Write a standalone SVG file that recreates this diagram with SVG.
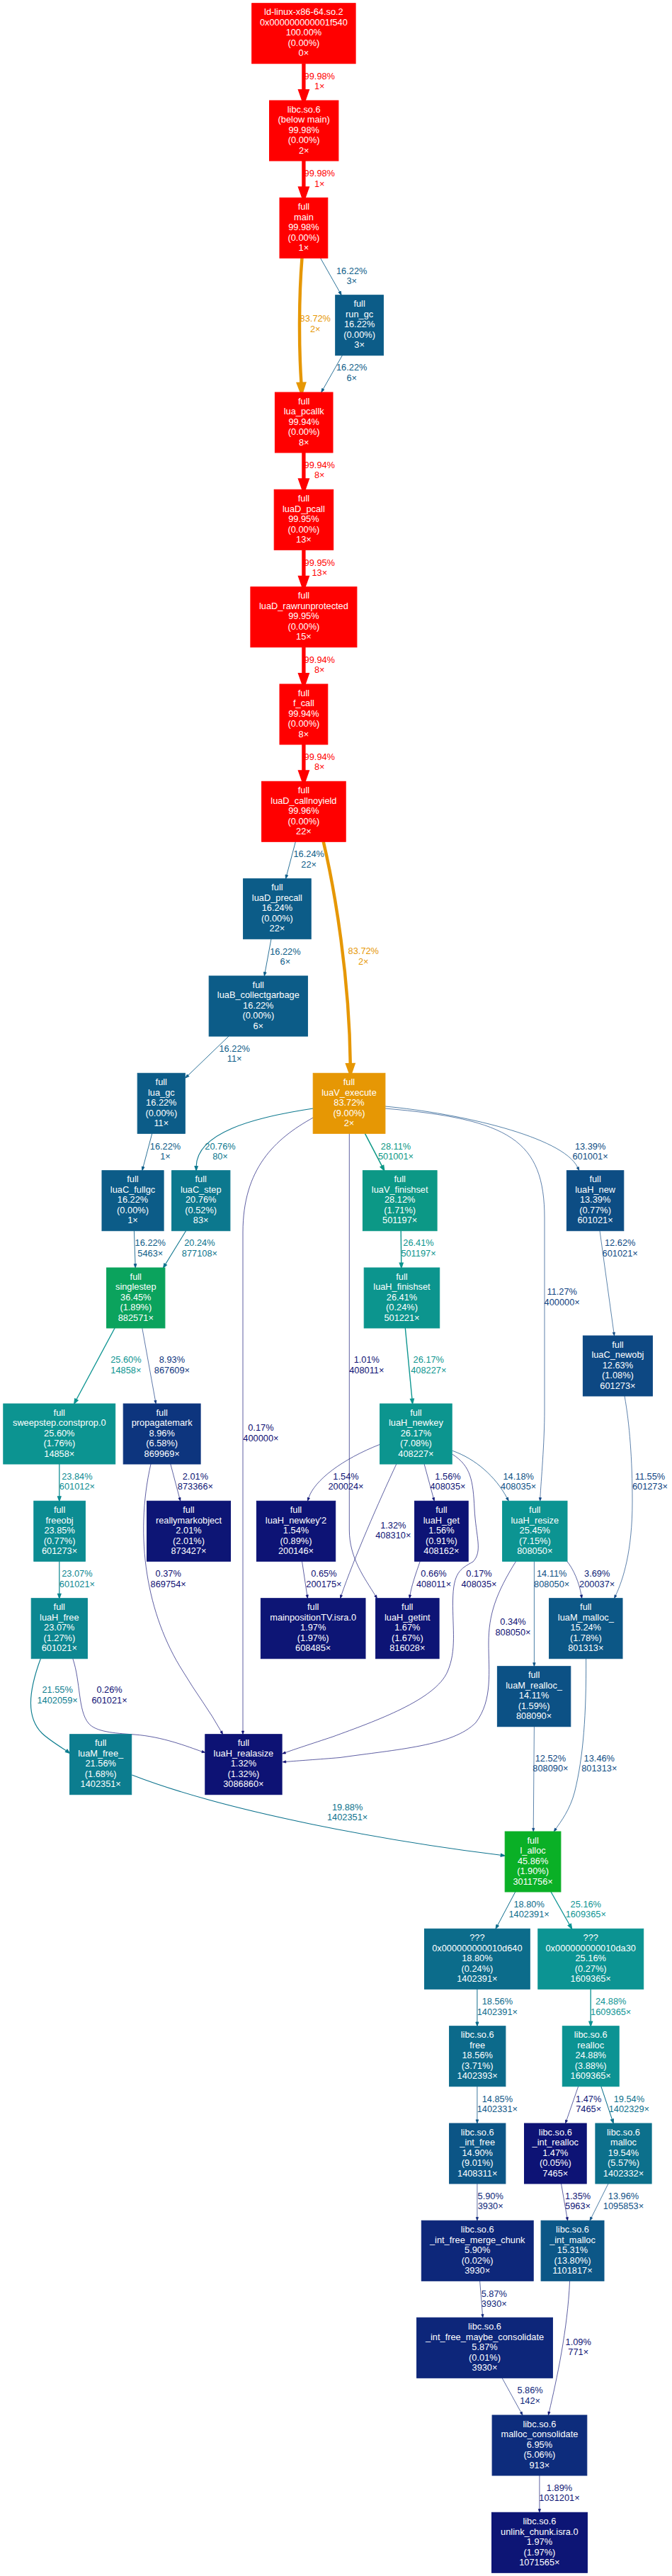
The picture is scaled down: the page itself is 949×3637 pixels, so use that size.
<svg xmlns="http://www.w3.org/2000/svg" width="949" height="3637" viewBox="0 0 949 3637">
<style>
.n rect{stroke-width:1}
.n text{font-family:"Liberation Sans",Arial,sans-serif;font-size:12.8px;fill:#fff;text-anchor:middle}
.e path{fill:none;stroke:currentColor}
.e polygon{fill:currentColor;stroke:currentColor}
.e text{font-family:"Liberation Sans",Arial,sans-serif;font-size:12.8px;fill:currentColor;stroke:none;text-anchor:middle}
</style>
<rect width="949" height="3637" fill="#ffffff"/>
<g id="edges">
<g class="e" color="#ff0000" stroke-width="5.33"><path d="M428.9,89.7 L428.9,128.67"/><polygon points="428.9,142 433.57,128.67 424.23,128.67"/><text x="451.3" y="111.5">99.98%<tspan x="451.3" dy="14.5">1×</tspan></text></g>
<g class="e" color="#ff0000" stroke-width="5.33"><path d="M428.9,227 L428.9,265.97"/><polygon points="428.9,279.3 433.57,265.97 424.23,265.97"/><text x="451.3" y="249.2">99.98%<tspan x="451.3" dy="14.5">1×</tspan></text></g>
<g class="e" color="#e69704" stroke-width="4.46"><path d="M426.5,364.3 C422,420 422,490 425.5,541.8"/><polygon points="425.9,554 429.77,541.67 421.23,541.93"/><text x="445.3" y="454.2">83.72%<tspan x="445.3" dy="14.5">2×</tspan></text></g>
<g class="e" color="#0c5c88" stroke-width="0.87"><path d="M452.5,364.3 L479.55,412.03"/><polygon points="482.2,416.7 477.91,412.96 481.19,411.1"/><text x="496.7" y="386.9">16.22%<tspan x="496.7" dy="14.5">3×</tspan></text></g>
<g class="e" color="#0c5c88" stroke-width="0.87"><path d="M483.4,501.7 L456.35,549.33"/><polygon points="453.7,554 454.71,548.4 457.99,550.26"/><text x="496.7" y="523.2">16.22%<tspan x="496.7" dy="14.5">6×</tspan></text></g>
<g class="e" color="#ff0000" stroke-width="5.33"><path d="M428.9,639 L428.9,677.97"/><polygon points="428.9,691.3 433.57,677.97 424.23,677.97"/><text x="451.3" y="660.9">99.94%<tspan x="451.3" dy="14.5">8×</tspan></text></g>
<g class="e" color="#ff0000" stroke-width="5.33"><path d="M428.9,776.3 L428.9,815.37"/><polygon points="428.9,828.7 433.57,815.37 424.23,815.37"/><text x="451.3" y="798.5">99.95%<tspan x="451.3" dy="14.5">13×</tspan></text></g>
<g class="e" color="#ff0000" stroke-width="5.33"><path d="M428.9,913.7 L428.9,952.67"/><polygon points="428.9,966 433.57,952.67 424.23,952.67"/><text x="451.3" y="935.9">99.94%<tspan x="451.3" dy="14.5">8×</tspan></text></g>
<g class="e" color="#ff0000" stroke-width="5.33"><path d="M428.9,1051 L428.9,1089.97"/><polygon points="428.9,1103.3 433.57,1089.97 424.23,1089.97"/><text x="451.3" y="1072.5">99.94%<tspan x="451.3" dy="14.5">8×</tspan></text></g>
<g class="e" color="#0c5c88" stroke-width="0.87"><path d="M417.4,1188.3 L404.87,1235.51"/><polygon points="403.5,1240.7 403.05,1235.03 406.69,1235.99"/><text x="436.2" y="1210.2">16.24%<tspan x="436.2" dy="14.5">22×</tspan></text></g>
<g class="e" color="#e69704" stroke-width="4.46"><path d="M456.7,1188.3 C473.5,1260 493.3,1380 494.8,1503.1"/><polygon points="494.9,1515.3 499.07,1503.07 490.53,1503.13"/><text x="513.3" y="1347.2">83.72%<tspan x="513.3" dy="14.5">2×</tspan></text></g>
<g class="e" color="#0c5c88" stroke-width="0.87"><path d="M383,1325.7 L374.28,1372.72"/><polygon points="373.3,1378 372.43,1372.38 376.13,1373.06"/><text x="402.9" y="1347.5">16.22%<tspan x="402.9" dy="14.5">6×</tspan></text></g>
<g class="e" color="#0c5c88" stroke-width="0.87"><path d="M323,1463 L265.67,1518.27"/><polygon points="261.8,1522 264.37,1516.92 266.98,1519.62"/><text x="331.2" y="1484.9">16.22%<tspan x="331.2" dy="14.5">11×</tspan></text></g>
<g class="e" color="#0c5c88" stroke-width="0.87"><path d="M214.8,1600.3 L202.19,1647.51"/><polygon points="200.8,1652.7 200.37,1647.03 204.01,1647.99"/><text x="233.5" y="1622.5">16.22%<tspan x="233.5" dy="14.5">1×</tspan></text></g>
<g class="e" color="#0c788e" stroke-width="1.11"><path d="M442.2,1565 C355.2,1578 278.2,1600 277.15,1646.63"/><polygon points="277.1,1652.7 275.02,1646.59 279.28,1646.67"/><text x="311" y="1622.5">20.76%<tspan x="311" dy="14.5">80×</tspan></text></g>
<g class="e" color="#0c9886" stroke-width="1.5"><path d="M515.4,1600.3 L539.43,1646.43"/><polygon points="542.7,1652.7 537.24,1647.57 541.62,1645.29"/><text x="559" y="1622.5">28.11%<tspan x="559" dy="14.5">501001×</tspan></text></g>
<g class="e" color="#0d4d84" stroke-width="0.71"><path d="M543.9,1562 C650,1572 795,1605 815.79,1648.3"/><polygon points="817.9,1652.7 814.25,1649.04 817.33,1647.56"/><text x="833.6" y="1622.5">13.39%<tspan x="833.6" dy="14.5">601001×</tspan></text></g>
<g class="e" color="#0d4181" stroke-width="0.67"><path d="M543.9,1565 C720,1580 769,1610 769,1720 L769,1990 C769,2040 764,2090 762.9,2114.6"/><polygon points="762.7,2119.3 761.25,2114.54 764.55,2114.66"/><text x="793.7" y="1828.2">11.27%<tspan x="793.7" dy="14.5">400000×</tspan></text></g>
<g class="e" color="#0d1174" stroke-width="0.67"><path d="M493.3,1600.3 L493.3,2160 C493.3,2200 515,2228 530.1,2252.8"/><polygon points="532.5,2256.7 528.7,2253.68 531.5,2251.93"/><text x="517.8" y="1924.2">1.01%<tspan x="517.8" dy="14.5">408011×</tspan></text></g>
<g class="e" color="#0d0d73" stroke-width="0.67"><path d="M442.2,1578 C388,1608 343,1650 343,1740 L343,2443.99"/><polygon points="343,2448.7 344.65,2443.99 341.35,2443.99"/><text x="368.4" y="2020.2">0.17%<tspan x="368.4" dy="14.5">400000×</tspan></text></g>
<g class="e" color="#0c5c88" stroke-width="0.87"><path d="M189.4,1737.7 L191.02,1784.64"/><polygon points="191.2,1790 189.14,1784.7 192.9,1784.58"/><text x="212.3" y="1759.2">16.22%<tspan x="212.3" dy="14.5">5463×</tspan></text></g>
<g class="e" color="#0c758d" stroke-width="1.08"><path d="M262.6,1737.7 L233.64,1784.89"/><polygon points="230.5,1790 231.85,1783.79 235.43,1785.99"/><text x="281.9" y="1759.2">20.24%<tspan x="281.9" dy="14.5">877108×</tspan></text></g>
<g class="e" color="#0c958e" stroke-width="1.41"><path d="M566.2,1737.7 L566.72,1783.15"/><polygon points="566.8,1790 564.32,1783.18 569.12,1783.12"/><text x="591" y="1759.2">26.41%<tspan x="591" dy="14.5">501197×</tspan></text></g>
<g class="e" color="#0d4883" stroke-width="0.67"><path d="M847,1737.7 L866.85,1881.3"/><polygon points="867.5,1886 865.2,1881.53 868.5,1881.07"/><text x="875.7" y="1759.2">12.62%<tspan x="875.7" dy="14.5">601021×</tspan></text></g>
<g class="e" color="#0c9491" stroke-width="1.37"><path d="M162.1,1875 L107.89,1976.05"/><polygon points="104.7,1982 105.81,1974.93 109.97,1977.17"/><text x="177.9" y="1924.2">25.60%<tspan x="177.9" dy="14.5">14858×</tspan></text></g>
<g class="e" color="#0d357e" stroke-width="0.67"><path d="M200.8,1875 L219.36,1977.37"/><polygon points="220.2,1982 217.74,1977.66 220.98,1977.08"/><text x="242.9" y="1924.2">8.93%<tspan x="242.9" dy="14.5">867609×</tspan></text></g>
<g class="e" color="#0c958f" stroke-width="1.4"><path d="M572.3,1875 L581.95,1975.21"/><polygon points="582.6,1982 579.57,1975.44 584.33,1974.98"/><text x="605.3" y="1924.2">26.17%<tspan x="605.3" dy="14.5">408227×</tspan></text></g>
<g class="e" color="#0d4382" stroke-width="0.67"><path d="M882,1971 C889,2010 893,2060 893,2120 C893,2190 880,2230 869.5,2252.44"/><polygon points="867.5,2256.7 868,2251.74 871,2253.14"/><text x="918" y="2088.9">11.55%<tspan x="918" dy="14.5">601273×</tspan></text></g>
<g class="e" color="#0c8c92" stroke-width="1.27"><path d="M83.8,2067 L83.8,2112.79"/><polygon points="83.8,2119.3 86.08,2112.79 81.52,2112.79"/><text x="108.9" y="2088.9">23.84%<tspan x="108.9" dy="14.5">601012×</tspan></text></g>
<g class="e" color="#0d1575" stroke-width="0.67"><path d="M240.8,2067 L253.49,2114.75"/><polygon points="254.7,2119.3 251.9,2115.17 255.09,2114.33"/><text x="275.9" y="2088.9">2.01%<tspan x="275.9" dy="14.5">873366×</tspan></text></g>
<g class="e" color="#0d0e73" stroke-width="0.67"><path d="M213,2067 C189.4,2170 207.2,2280 258.5,2360 C276.3,2390 296,2415 312.33,2444.58"/><polygon points="314.6,2448.7 310.89,2445.38 313.77,2443.78"/><text x="237.7" y="2226.2">0.37%<tspan x="237.7" dy="14.5">869754×</tspan></text></g>
<g class="e" color="#0d1375" stroke-width="0.67"><path d="M536.6,2039.3 C483.5,2060 444,2090 435.87,2114.82"/><polygon points="434.4,2119.3 434.3,2114.31 437.44,2115.34"/><text x="488.5" y="2088.9">1.54%<tspan x="488.5" dy="14.5">200024×</tspan></text></g>
<g class="e" color="#0d1274" stroke-width="0.67"><path d="M560,2066.7 C535,2120 500,2200 482.03,2252.24"/><polygon points="480.5,2256.7 480.47,2251.7 483.59,2252.78"/><text x="555.3" y="2157.5">1.32%<tspan x="555.3" dy="14.5">408310×</tspan></text></g>
<g class="e" color="#0d1375" stroke-width="0.67"><path d="M599,2066.7 L612.07,2114.75"/><polygon points="613.3,2119.3 610.48,2115.18 613.66,2114.32"/><text x="632.5" y="2088.9">1.56%<tspan x="632.5" dy="14.5">408035×</tspan></text></g>
<g class="e" color="#0d0d73" stroke-width="0.67"><path d="M639,2053.3 C665,2070 668,2090 670,2130 C672,2170 682,2190 668,2205 C650,2215 640,2220 639.5,2260 C639,2300 645,2330 632,2360 C615,2400 530,2430 470,2452 C440,2462 415,2470 403,2474.5"/><polygon points="398.6,2476 402.48,2472.94 403.53,2476.06"/><text x="676.5" y="2226.2">0.17%<tspan x="676.5" dy="14.5">408035×</tspan></text></g>
<g class="e" color="#0c5185" stroke-width="0.76"><path d="M639,2048.3 C672,2060 700,2085 715.94,2114.87"/><polygon points="718.3,2119.3 714.39,2115.7 717.49,2114.04"/><text x="732.2" y="2088.9">14.18%<tspan x="732.2" dy="14.5">408035×</tspan></text></g>
<g class="e" color="#0d0f74" stroke-width="0.67"><path d="M426.5,2204.3 L433.7,2252.04"/><polygon points="434.4,2256.7 432.07,2252.29 435.33,2251.79"/><text x="457.4" y="2226.2">0.65%<tspan x="457.4" dy="14.5">200175×</tspan></text></g>
<g class="e" color="#0d0f74" stroke-width="0.67"><path d="M593.3,2204.3 C587,2222 581,2240 579.05,2252.05"/><polygon points="578.3,2256.7 577.42,2251.79 580.68,2252.31"/><text x="612.5" y="2226.2">0.66%<tspan x="612.5" dy="14.5">408011×</tspan></text></g>
<g class="e" color="#0c5185" stroke-width="0.75"><path d="M754.4,2204.3 L754.4,2347.68"/><polygon points="754.4,2352.7 756.16,2347.68 752.64,2347.68"/><text x="779.2" y="2226.2">14.11%<tspan x="779.2" dy="14.5">808050×</tspan></text></g>
<g class="e" color="#0d1c77" stroke-width="0.67"><path d="M800,2203.5 C810,2215 818,2235 820.91,2252.06"/><polygon points="821.7,2256.7 819.28,2252.34 822.54,2251.78"/><text x="843.2" y="2226.2">3.69%<tspan x="843.2" dy="14.5">200037×</tspan></text></g>
<g class="e" color="#0d0e73" stroke-width="0.67"><path d="M729.3,2203.3 C700,2250 690,2280 690,2320 C690,2360 696,2400 672,2432 C640,2465 560,2470 480,2481.5 C450,2484 420,2486 403.7,2487.42"/><polygon points="399,2487.7 403.6,2485.77 403.8,2489.07"/><text x="724.5" y="2294.2">0.34%<tspan x="724.5" dy="14.5">808050×</tspan></text></g>
<g class="e" color="#0c8791" stroke-width="1.23"><path d="M83.8,2204.3 L83.8,2250.3"/><polygon points="83.8,2256.7 86.04,2250.3 81.56,2250.3"/><text x="108.9" y="2226.2">23.07%<tspan x="108.9" dy="14.5">601021×</tspan></text></g>
<g class="e" color="#0c7d8f" stroke-width="1.15"><path d="M57.4,2341.7 C39.5,2390 37.5,2425 59.2,2447 C68,2455.5 77,2461 93.65,2471.79"/><polygon points="98.6,2475.5 92.35,2473.53 94.95,2470.05"/><text x="81.1" y="2390.2">21.55%<tspan x="81.1" dy="14.5">1402059×</tspan></text></g>
<g class="e" color="#0d0e73" stroke-width="0.67"><path d="M102.8,2341.7 C114,2375 110,2415 125,2433 C135,2445 160,2447 190,2449 C230,2452 265,2466 285.25,2473.08"/><polygon points="289.8,2474.3 284.82,2474.67 285.68,2471.49"/><text x="154.6" y="2390.2">0.26%<tspan x="154.6" dy="14.5">601021×</tspan></text></g>
<g class="e" color="#0d4883" stroke-width="0.67"><path d="M754.4,2437.7 L753.24,2581.26"/><polygon points="753.2,2586 751.58,2581.25 754.9,2581.27"/><text x="777.4" y="2486.9">12.52%<tspan x="777.4" dy="14.5">808090×</tspan></text></g>
<g class="e" color="#0d4d84" stroke-width="0.72"><path d="M827.6,2341.7 C828,2420 824,2480 811.5,2530 C805,2555 792,2572 785,2582"/><polygon points="782.2,2586 783.6,2581.02 786.4,2582.98"/><text x="846.3" y="2486.9">13.46%<tspan x="846.3" dy="14.5">801313×</tspan></text></g>
<g class="e" color="#0c728d" stroke-width="1.06"><path d="M186.3,2506 C325.6,2560 552.5,2600 707.31,2619.27"/><polygon points="713.2,2620 707.05,2621.33 707.57,2617.2"/><text x="490.6" y="2555.9">19.88%<tspan x="490.6" dy="14.5">1402351×</tspan></text></g>
<g class="e" color="#0c6c8b" stroke-width="1"><path d="M727.8,2671 L702.72,2718.2"/><polygon points="700,2723.3 700.94,2717.25 704.5,2719.15"/><text x="747.1" y="2692.5">18.80%<tspan x="747.1" dy="14.5">1402391×</tspan></text></g>
<g class="e" color="#0c9493" stroke-width="1.34"><path d="M778,2671 L804.31,2717.48"/><polygon points="807.6,2723.3 802.27,2718.63 806.35,2716.33"/><text x="827.3" y="2692.5">25.16%<tspan x="827.3" dy="14.5">1609365×</tspan></text></g>
<g class="e" color="#0c6a8b" stroke-width="0.99"><path d="M673.9,2808.3 L673.9,2854.96"/><polygon points="673.9,2860.7 675.91,2854.96 671.89,2854.96"/><text x="702.4" y="2830.2">18.56%<tspan x="702.4" dy="14.5">1402391×</tspan></text></g>
<g class="e" color="#0c9393" stroke-width="1.33"><path d="M834.2,2808.3 L834.2,2854.05"/><polygon points="834.2,2860.7 836.53,2854.05 831.87,2854.05"/><text x="862.7" y="2830.2">24.88%<tspan x="862.7" dy="14.5">1609365×</tspan></text></g>
<g class="e" color="#0c5586" stroke-width="0.79"><path d="M673.9,2945.7 L673.9,2992.86"/><polygon points="673.9,2998 675.7,2992.86 672.1,2992.86"/><text x="702.4" y="2967.5">14.85%<tspan x="702.4" dy="14.5">1402331×</tspan></text></g>
<g class="e" color="#0d1375" stroke-width="0.67"><path d="M816.7,2945.7 L800.05,2993.55"/><polygon points="798.5,2998 798.49,2993.01 801.61,2994.09"/><text x="831.2" y="2967.5">1.47%<tspan x="831.2" dy="14.5">7465×</tspan></text></g>
<g class="e" color="#0c708c" stroke-width="1.04"><path d="M848.8,2945.7 L864.43,2992.42"/><polygon points="866.3,2998 862.48,2993.07 866.38,2991.77"/><text x="888.4" y="2967.5">19.54%<tspan x="888.4" dy="14.5">1402329×</tspan></text></g>
<g class="e" color="#0d277a" stroke-width="0.67"><path d="M673.9,3083 L673.9,3130.59"/><polygon points="673.9,3135.3 675.55,3130.59 672.25,3130.59"/><text x="692.7" y="3104.9">5.90%<tspan x="692.7" dy="14.5">3930×</tspan></text></g>
<g class="e" color="#0d1274" stroke-width="0.67"><path d="M792.5,3083 L800.79,3130.66"/><polygon points="801.6,3135.3 799.17,3130.94 802.42,3130.38"/><text x="816.1" y="3104.9">1.35%<tspan x="816.1" dy="14.5">5963×</tspan></text></g>
<g class="e" color="#0d5085" stroke-width="0.74"><path d="M859,3083 L835.22,3130.84"/><polygon points="833,3135.3 833.66,3130.07 836.78,3131.61"/><text x="880.5" y="3104.9">13.96%<tspan x="880.5" dy="14.5">1095853×</tspan></text></g>
<g class="e" color="#0d267a" stroke-width="0.67"><path d="M677.6,3220.3 L681.42,3267.61"/><polygon points="681.8,3272.3 679.78,3267.74 683.07,3267.48"/><text x="697.8" y="3242.5">5.87%<tspan x="697.8" dy="14.5">3930×</tspan></text></g>
<g class="e" color="#0d1174" stroke-width="0.67"><path d="M804.6,3220.3 C801.5,3290 786,3360 775.46,3405.41"/><polygon points="774.4,3410 773.85,3405.04 777.07,3405.78"/><text x="816.7" y="3310.9">1.09%<tspan x="816.7" dy="14.5">771×</tspan></text></g>
<g class="e" color="#0d267a" stroke-width="0.67"><path d="M709,3357.3 L735.73,3405.87"/><polygon points="738,3410 734.28,3406.67 737.18,3405.07"/><text x="748.6" y="3379.2">5.86%<tspan x="748.6" dy="14.5">142×</tspan></text></g>
<g class="e" color="#0d1575" stroke-width="0.67"><path d="M761.9,3495 L761.9,3542.59"/><polygon points="761.9,3547.3 763.55,3542.59 760.25,3542.59"/><text x="790" y="3516.9">1.89%<tspan x="790" dy="14.5">1031201×</tspan></text></g>
</g>
<g id="nodes">
<g id="n_ld_linux" class="n"><rect x="355.7" y="4.7" width="146.4" height="85" fill="#ff0000" stroke="#ff0000"/><text x="428.9" y="21.4">ld-linux-x86-64.so.2<tspan x="428.9" dy="14.5">0x000000000001f540</tspan><tspan x="428.9" dy="14.5">100.00%</tspan><tspan x="428.9" dy="14.5">(0.00%)</tspan><tspan x="428.9" dy="14.5">0×</tspan></text></g>
<g id="n_below_main" class="n"><rect x="380.5" y="142" width="97.4" height="85" fill="#ff0000" stroke="#ff0000"/><text x="429.2" y="158.7">libc.so.6<tspan x="429.2" dy="14.5">(below main)</tspan><tspan x="429.2" dy="14.5">99.98%</tspan><tspan x="429.2" dy="14.5">(0.00%)</tspan><tspan x="429.2" dy="14.5">2×</tspan></text></g>
<g id="n_main" class="n"><rect x="395" y="279.3" width="67.8" height="85" fill="#ff0000" stroke="#ff0000"/><text x="428.9" y="296">full<tspan x="428.9" dy="14.5">main</tspan><tspan x="428.9" dy="14.5">99.98%</tspan><tspan x="428.9" dy="14.5">(0.00%)</tspan><tspan x="428.9" dy="14.5">1×</tspan></text></g>
<g id="n_run_gc" class="n"><rect x="473.7" y="416.7" width="67.7" height="85" fill="#0c5c88" stroke="#0c5c88"/><text x="507.6" y="433.4">full<tspan x="507.6" dy="14.5">run_gc</tspan><tspan x="507.6" dy="14.5">16.22%</tspan><tspan x="507.6" dy="14.5">(0.00%)</tspan><tspan x="507.6" dy="14.5">3×</tspan></text></g>
<g id="n_lua_pcallk" class="n"><rect x="388.4" y="554" width="81.6" height="85" fill="#ff0000" stroke="#ff0000"/><text x="429.2" y="570.7">full<tspan x="429.2" dy="14.5">lua_pcallk</tspan><tspan x="429.2" dy="14.5">99.94%</tspan><tspan x="429.2" dy="14.5">(0.00%)</tspan><tspan x="429.2" dy="14.5">8×</tspan></text></g>
<g id="n_luaD_pcall" class="n"><rect x="387.2" y="691.3" width="83.5" height="85" fill="#ff0000" stroke="#ff0000"/><text x="428.9" y="708">full<tspan x="428.9" dy="14.5">luaD_pcall</tspan><tspan x="428.9" dy="14.5">99.95%</tspan><tspan x="428.9" dy="14.5">(0.00%)</tspan><tspan x="428.9" dy="14.5">13×</tspan></text></g>
<g id="n_luaD_rawrunprotected" class="n"><rect x="353.9" y="828.7" width="150" height="85" fill="#ff0000" stroke="#ff0000"/><text x="428.9" y="845.4">full<tspan x="428.9" dy="14.5">luaD_rawrunprotected</tspan><tspan x="428.9" dy="14.5">99.95%</tspan><tspan x="428.9" dy="14.5">(0.00%)</tspan><tspan x="428.9" dy="14.5">15×</tspan></text></g>
<g id="n_f_call" class="n"><rect x="395" y="966" width="67.8" height="85" fill="#ff0000" stroke="#ff0000"/><text x="428.9" y="982.7">full<tspan x="428.9" dy="14.5">f_call</tspan><tspan x="428.9" dy="14.5">99.94%</tspan><tspan x="428.9" dy="14.5">(0.00%)</tspan><tspan x="428.9" dy="14.5">8×</tspan></text></g>
<g id="n_luaD_callnoyield" class="n"><rect x="369.6" y="1103.3" width="118.6" height="85" fill="#ff0000" stroke="#ff0000"/><text x="428.9" y="1120">full<tspan x="428.9" dy="14.5">luaD_callnoyield</tspan><tspan x="428.9" dy="14.5">99.96%</tspan><tspan x="428.9" dy="14.5">(0.00%)</tspan><tspan x="428.9" dy="14.5">22×</tspan></text></g>
<g id="n_luaD_precall" class="n"><rect x="343.6" y="1240.7" width="95.6" height="85" fill="#0c5c88" stroke="#0c5c88"/><text x="391.4" y="1257.4">full<tspan x="391.4" dy="14.5">luaD_precall</tspan><tspan x="391.4" dy="14.5">16.24%</tspan><tspan x="391.4" dy="14.5">(0.00%)</tspan><tspan x="391.4" dy="14.5">22×</tspan></text></g>
<g id="n_luaB_collectgarbage" class="n"><rect x="295.2" y="1378" width="139.2" height="85" fill="#0c5c88" stroke="#0c5c88"/><text x="364.8" y="1394.7">full<tspan x="364.8" dy="14.5">luaB_collectgarbage</tspan><tspan x="364.8" dy="14.5">16.22%</tspan><tspan x="364.8" dy="14.5">(0.00%)</tspan><tspan x="364.8" dy="14.5">6×</tspan></text></g>
<g id="n_lua_gc" class="n"><rect x="194.2" y="1515.3" width="67.1" height="85" fill="#0c5c88" stroke="#0c5c88"/><text x="227.8" y="1532">full<tspan x="227.8" dy="14.5">lua_gc</tspan><tspan x="227.8" dy="14.5">16.22%</tspan><tspan x="227.8" dy="14.5">(0.00%)</tspan><tspan x="227.8" dy="14.5">11×</tspan></text></g>
<g id="n_luaV_execute" class="n"><rect x="442.2" y="1515.3" width="101.7" height="85" fill="#e69704" stroke="#e69704"/><text x="493" y="1532">full<tspan x="493" dy="14.5">luaV_execute</tspan><tspan x="493" dy="14.5">83.72%</tspan><tspan x="493" dy="14.5">(9.00%)</tspan><tspan x="493" dy="14.5">2×</tspan></text></g>
<g id="n_luaC_fullgc" class="n"><rect x="144" y="1652.7" width="87.1" height="85" fill="#0c5c88" stroke="#0c5c88"/><text x="187.5" y="1669.4">full<tspan x="187.5" dy="14.5">luaC_fullgc</tspan><tspan x="187.5" dy="14.5">16.22%</tspan><tspan x="187.5" dy="14.5">(0.00%)</tspan><tspan x="187.5" dy="14.5">1×</tspan></text></g>
<g id="n_luaC_step" class="n"><rect x="242.6" y="1652.7" width="82.3" height="85" fill="#0c788e" stroke="#0c788e"/><text x="283.7" y="1669.4">full<tspan x="283.7" dy="14.5">luaC_step</tspan><tspan x="283.7" dy="14.5">20.76%</tspan><tspan x="283.7" dy="14.5">(0.52%)</tspan><tspan x="283.7" dy="14.5">83×</tspan></text></g>
<g id="n_luaV_finishset" class="n"><rect x="512.4" y="1652.7" width="104.7" height="85" fill="#0c9886" stroke="#0c9886"/><text x="564.7" y="1669.4">full<tspan x="564.7" dy="14.5">luaV_finishset</tspan><tspan x="564.7" dy="14.5">28.12%</tspan><tspan x="564.7" dy="14.5">(1.71%)</tspan><tspan x="564.7" dy="14.5">501197×</tspan></text></g>
<g id="n_luaH_new" class="n"><rect x="800.4" y="1652.7" width="80.4" height="85" fill="#0d4d84" stroke="#0d4d84"/><text x="840.6" y="1669.4">full<tspan x="840.6" dy="14.5">luaH_new</tspan><tspan x="840.6" dy="14.5">13.39%</tspan><tspan x="840.6" dy="14.5">(0.77%)</tspan><tspan x="840.6" dy="14.5">601021×</tspan></text></g>
<g id="n_singlestep" class="n"><rect x="150.6" y="1790" width="82.3" height="85" fill="#0ba35d" stroke="#0ba35d"/><text x="191.8" y="1806.7">full<tspan x="191.8" dy="14.5">singlestep</tspan><tspan x="191.8" dy="14.5">36.45%</tspan><tspan x="191.8" dy="14.5">(1.89%)</tspan><tspan x="191.8" dy="14.5">882571×</tspan></text></g>
<g id="n_luaH_finishset" class="n"><rect x="514.2" y="1790" width="106.5" height="85" fill="#0c958e" stroke="#0c958e"/><text x="567.5" y="1806.7">full<tspan x="567.5" dy="14.5">luaH_finishset</tspan><tspan x="567.5" dy="14.5">26.41%</tspan><tspan x="567.5" dy="14.5">(0.24%)</tspan><tspan x="567.5" dy="14.5">501221×</tspan></text></g>
<g id="n_luaC_newobj" class="n"><rect x="823.4" y="1886" width="98" height="85" fill="#0d4883" stroke="#0d4883"/><text x="872.4" y="1902.7">full<tspan x="872.4" dy="14.5">luaC_newobj</tspan><tspan x="872.4" dy="14.5">12.63%</tspan><tspan x="872.4" dy="14.5">(1.08%)</tspan><tspan x="872.4" dy="14.5">601273×</tspan></text></g>
<g id="n_sweepstep" class="n"><rect x="4.8" y="1982" width="157.9" height="85" fill="#0c9491" stroke="#0c9491"/><text x="83.8" y="1998.7">full<tspan x="83.8" dy="14.5">sweepstep.constprop.0</tspan><tspan x="83.8" dy="14.5">25.60%</tspan><tspan x="83.8" dy="14.5">(1.76%)</tspan><tspan x="83.8" dy="14.5">14858×</tspan></text></g>
<g id="n_propagatemark" class="n"><rect x="174.2" y="1982" width="108.9" height="85" fill="#0d357e" stroke="#0d357e"/><text x="228.7" y="1998.7">full<tspan x="228.7" dy="14.5">propagatemark</tspan><tspan x="228.7" dy="14.5">8.96%</tspan><tspan x="228.7" dy="14.5">(6.58%)</tspan><tspan x="228.7" dy="14.5">869969×</tspan></text></g>
<g id="n_luaH_newkey" class="n"><rect x="536.6" y="1982" width="101.6" height="85" fill="#0c958f" stroke="#0c958f"/><text x="587.4" y="1998.7">full<tspan x="587.4" dy="14.5">luaH_newkey</tspan><tspan x="587.4" dy="14.5">26.17%</tspan><tspan x="587.4" dy="14.5">(7.08%)</tspan><tspan x="587.4" dy="14.5">408227×</tspan></text></g>
<g id="n_freeobj" class="n"><rect x="47.8" y="2119.3" width="72.6" height="85" fill="#0c8c92" stroke="#0c8c92"/><text x="84.1" y="2136">full<tspan x="84.1" dy="14.5">freeobj</tspan><tspan x="84.1" dy="14.5">23.85%</tspan><tspan x="84.1" dy="14.5">(0.77%)</tspan><tspan x="84.1" dy="14.5">601273×</tspan></text></g>
<g id="n_reallymarkobject" class="n"><rect x="207.5" y="2119.3" width="118" height="85" fill="#0d1575" stroke="#0d1575"/><text x="266.5" y="2136">full<tspan x="266.5" dy="14.5">reallymarkobject</tspan><tspan x="266.5" dy="14.5">2.01%</tspan><tspan x="266.5" dy="14.5">(2.01%)</tspan><tspan x="266.5" dy="14.5">873427×</tspan></text></g>
<g id="n_luaH_newkey2" class="n"><rect x="362.4" y="2119.3" width="111.3" height="85" fill="#0d1375" stroke="#0d1375"/><text x="418" y="2136">full<tspan x="418" dy="14.5">luaH_newkey'2</tspan><tspan x="418" dy="14.5">1.54%</tspan><tspan x="418" dy="14.5">(0.89%)</tspan><tspan x="418" dy="14.5">200146×</tspan></text></g>
<g id="n_luaH_get" class="n"><rect x="585.6" y="2119.3" width="75.6" height="85" fill="#0d1375" stroke="#0d1375"/><text x="623.4" y="2136">full<tspan x="623.4" dy="14.5">luaH_get</tspan><tspan x="623.4" dy="14.5">1.56%</tspan><tspan x="623.4" dy="14.5">(0.91%)</tspan><tspan x="623.4" dy="14.5">408162×</tspan></text></g>
<g id="n_luaH_resize" class="n"><rect x="709.6" y="2119.3" width="91.4" height="85" fill="#0c9492" stroke="#0c9492"/><text x="755.3" y="2136">full<tspan x="755.3" dy="14.5">luaH_resize</tspan><tspan x="755.3" dy="14.5">25.45%</tspan><tspan x="755.3" dy="14.5">(7.15%)</tspan><tspan x="755.3" dy="14.5">808050×</tspan></text></g>
<g id="n_luaH_free" class="n"><rect x="44.2" y="2256.7" width="79.2" height="85" fill="#0c8791" stroke="#0c8791"/><text x="83.8" y="2273.4">full<tspan x="83.8" dy="14.5">luaH_free</tspan><tspan x="83.8" dy="14.5">23.07%</tspan><tspan x="83.8" dy="14.5">(1.27%)</tspan><tspan x="83.8" dy="14.5">601021×</tspan></text></g>
<g id="n_mainpositionTV" class="n"><rect x="368.4" y="2256.7" width="147.6" height="85" fill="#0d1575" stroke="#0d1575"/><text x="442.2" y="2273.4">full<tspan x="442.2" dy="14.5">mainpositionTV.isra.0</tspan><tspan x="442.2" dy="14.5">1.97%</tspan><tspan x="442.2" dy="14.5">(1.97%)</tspan><tspan x="442.2" dy="14.5">608485×</tspan></text></g>
<g id="n_luaH_getint" class="n"><rect x="530.6" y="2256.7" width="89.5" height="85" fill="#0d1475" stroke="#0d1475"/><text x="575.3" y="2273.4">full<tspan x="575.3" dy="14.5">luaH_getint</tspan><tspan x="575.3" dy="14.5">1.67%</tspan><tspan x="575.3" dy="14.5">(1.67%)</tspan><tspan x="575.3" dy="14.5">816028×</tspan></text></g>
<g id="n_luaM_malloc_" class="n"><rect x="775.6" y="2256.7" width="103.4" height="85" fill="#0c5786" stroke="#0c5786"/><text x="827.3" y="2273.4">full<tspan x="827.3" dy="14.5">luaM_malloc_</tspan><tspan x="827.3" dy="14.5">15.24%</tspan><tspan x="827.3" dy="14.5">(1.78%)</tspan><tspan x="827.3" dy="14.5">801313×</tspan></text></g>
<g id="n_luaM_realloc_" class="n"><rect x="702.4" y="2352.7" width="103.4" height="85" fill="#0c5185" stroke="#0c5185"/><text x="754.1" y="2369.4">full<tspan x="754.1" dy="14.5">luaM_realloc_</tspan><tspan x="754.1" dy="14.5">14.11%</tspan><tspan x="754.1" dy="14.5">(1.59%)</tspan><tspan x="754.1" dy="14.5">808090×</tspan></text></g>
<g id="n_luaM_free_" class="n"><rect x="98.6" y="2448.7" width="87.1" height="85" fill="#0c7d8f" stroke="#0c7d8f"/><text x="142.2" y="2465.4">full<tspan x="142.2" dy="14.5">luaM_free_</tspan><tspan x="142.2" dy="14.5">21.56%</tspan><tspan x="142.2" dy="14.5">(1.68%)</tspan><tspan x="142.2" dy="14.5">1402351×</tspan></text></g>
<g id="n_luaH_realasize" class="n"><rect x="289.8" y="2448.7" width="108.3" height="85" fill="#0d1274" stroke="#0d1274"/><text x="343.9" y="2465.4">full<tspan x="343.9" dy="14.5">luaH_realasize</tspan><tspan x="343.9" dy="14.5">1.32%</tspan><tspan x="343.9" dy="14.5">(1.32%)</tspan><tspan x="343.9" dy="14.5">3086860×</tspan></text></g>
<g id="n_l_alloc" class="n"><rect x="713.2" y="2586" width="78.7" height="85" fill="#0ab026" stroke="#0ab026"/><text x="752.6" y="2602.7">full<tspan x="752.6" dy="14.5">l_alloc</tspan><tspan x="752.6" dy="14.5">45.86%</tspan><tspan x="752.6" dy="14.5">(1.90%)</tspan><tspan x="752.6" dy="14.5">3011756×</tspan></text></g>
<g id="n_unk_10d640" class="n"><rect x="599.5" y="2723.3" width="148.8" height="85" fill="#0c6c8b" stroke="#0c6c8b"/><text x="673.9" y="2740">???<tspan x="673.9" dy="14.5">0x000000000010d640</tspan><tspan x="673.9" dy="14.5">18.80%</tspan><tspan x="673.9" dy="14.5">(0.24%)</tspan><tspan x="673.9" dy="14.5">1402391×</tspan></text></g>
<g id="n_unk_10da30" class="n"><rect x="759.8" y="2723.3" width="148.9" height="85" fill="#0c9493" stroke="#0c9493"/><text x="834.2" y="2740">???<tspan x="834.2" dy="14.5">0x000000000010da30</tspan><tspan x="834.2" dy="14.5">25.16%</tspan><tspan x="834.2" dy="14.5">(0.27%)</tspan><tspan x="834.2" dy="14.5">1609365×</tspan></text></g>
<g id="n_free" class="n"><rect x="634.6" y="2860.7" width="79.3" height="85" fill="#0c6a8b" stroke="#0c6a8b"/><text x="674.2" y="2877.4">libc.so.6<tspan x="674.2" dy="14.5">free</tspan><tspan x="674.2" dy="14.5">18.56%</tspan><tspan x="674.2" dy="14.5">(3.71%)</tspan><tspan x="674.2" dy="14.5">1402393×</tspan></text></g>
<g id="n_realloc" class="n"><rect x="794.3" y="2860.7" width="79.9" height="85" fill="#0c9393" stroke="#0c9393"/><text x="834.2" y="2877.4">libc.so.6<tspan x="834.2" dy="14.5">realloc</tspan><tspan x="834.2" dy="14.5">24.88%</tspan><tspan x="834.2" dy="14.5">(3.88%)</tspan><tspan x="834.2" dy="14.5">1609365×</tspan></text></g>
<g id="n_int_free" class="n"><rect x="634.6" y="2998" width="79.3" height="85" fill="#0c5586" stroke="#0c5586"/><text x="674.2" y="3014.7">libc.so.6<tspan x="674.2" dy="14.5">_int_free</tspan><tspan x="674.2" dy="14.5">14.90%</tspan><tspan x="674.2" dy="14.5">(9.01%)</tspan><tspan x="674.2" dy="14.5">1408311×</tspan></text></g>
<g id="n_int_realloc" class="n"><rect x="740.5" y="2998" width="87.7" height="85" fill="#0d1375" stroke="#0d1375"/><text x="784.3" y="3014.7">libc.so.6<tspan x="784.3" dy="14.5">_int_realloc</tspan><tspan x="784.3" dy="14.5">1.47%</tspan><tspan x="784.3" dy="14.5">(0.05%)</tspan><tspan x="784.3" dy="14.5">7465×</tspan></text></g>
<g id="n_malloc" class="n"><rect x="840.9" y="2998" width="79.2" height="85" fill="#0c708c" stroke="#0c708c"/><text x="880.5" y="3014.7">libc.so.6<tspan x="880.5" dy="14.5">malloc</tspan><tspan x="880.5" dy="14.5">19.54%</tspan><tspan x="880.5" dy="14.5">(5.57%)</tspan><tspan x="880.5" dy="14.5">1402332×</tspan></text></g>
<g id="n_int_free_merge_chunk" class="n"><rect x="595.3" y="3135.3" width="157.9" height="85" fill="#0d277a" stroke="#0d277a"/><text x="674.2" y="3152">libc.so.6<tspan x="674.2" dy="14.5">_int_free_merge_chunk</tspan><tspan x="674.2" dy="14.5">5.90%</tspan><tspan x="674.2" dy="14.5">(0.02%)</tspan><tspan x="674.2" dy="14.5">3930×</tspan></text></g>
<g id="n_int_malloc" class="n"><rect x="764.1" y="3135.3" width="88.9" height="85" fill="#0c5787" stroke="#0c5787"/><text x="808.5" y="3152">libc.so.6<tspan x="808.5" dy="14.5">_int_malloc</tspan><tspan x="808.5" dy="14.5">15.31%</tspan><tspan x="808.5" dy="14.5">(13.80%)</tspan><tspan x="808.5" dy="14.5">1101817×</tspan></text></g>
<g id="n_int_free_maybe_consolidate" class="n"><rect x="588.6" y="3272.3" width="191.8" height="85" fill="#0d267a" stroke="#0d267a"/><text x="684.5" y="3289">libc.so.6<tspan x="684.5" dy="14.5">_int_free_maybe_consolidate</tspan><tspan x="684.5" dy="14.5">5.87%</tspan><tspan x="684.5" dy="14.5">(0.01%)</tspan><tspan x="684.5" dy="14.5">3930×</tspan></text></g>
<g id="n_malloc_consolidate" class="n"><rect x="695.1" y="3410" width="133.7" height="85" fill="#0d2c7c" stroke="#0d2c7c"/><text x="761.9" y="3426.7">libc.so.6<tspan x="761.9" dy="14.5">malloc_consolidate</tspan><tspan x="761.9" dy="14.5">6.95%</tspan><tspan x="761.9" dy="14.5">(5.06%)</tspan><tspan x="761.9" dy="14.5">913×</tspan></text></g>
<g id="n_unlink_chunk" class="n"><rect x="694.5" y="3547.3" width="134.9" height="85" fill="#0d1575" stroke="#0d1575"/><text x="761.9" y="3564">libc.so.6<tspan x="761.9" dy="14.5">unlink_chunk.isra.0</tspan><tspan x="761.9" dy="14.5">1.97%</tspan><tspan x="761.9" dy="14.5">(1.97%)</tspan><tspan x="761.9" dy="14.5">1071565×</tspan></text></g>
</g>
</svg>
